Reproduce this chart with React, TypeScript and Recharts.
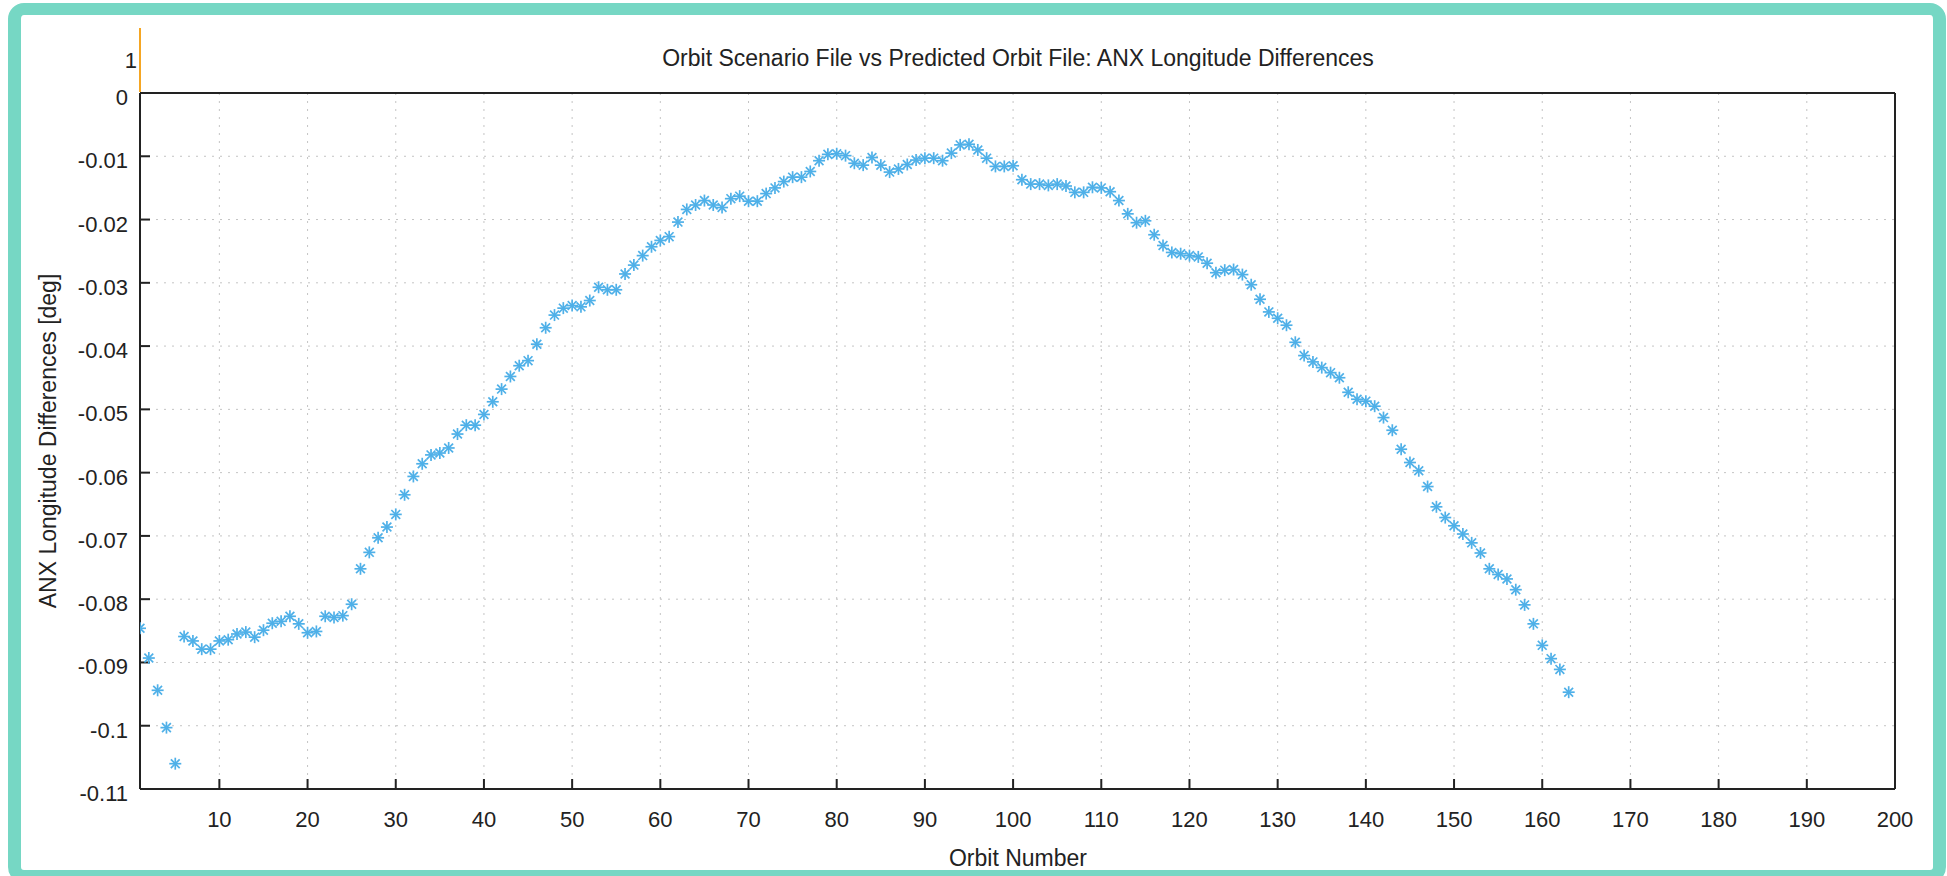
import { ScatterChart, Scatter, XAxis, YAxis, CartesianGrid } from "recharts";

const TITLE = "Orbit Scenario File vs Predicted Orbit File: ANX Longitude Differences";
const X_LABEL = "Orbit Number";
const Y_LABEL = "ANX Longitude Differences [deg]";

// first orbit of the run, values follow one per orbit
const FIRST_ORBIT = 1;

const ANX_DIFF = [
  -0.0846, -0.0893, -0.0944, -0.1003, -0.106, -0.0859, -0.0866, -0.0879, -0.0879, -0.0866,
  -0.0864, -0.0855, -0.0852, -0.086, -0.0849, -0.0838, -0.0835, -0.0827, -0.0839, -0.0853,
  -0.0851, -0.0827, -0.0829, -0.0826, -0.0808, -0.0752, -0.0726, -0.0703, -0.0686, -0.0666,
  -0.0635, -0.0606, -0.0586, -0.0572, -0.0569, -0.0561, -0.0539, -0.0525, -0.0525, -0.0508,
  -0.0488, -0.0468, -0.0448, -0.0431, -0.0423, -0.0397, -0.0371, -0.0351, -0.034, -0.0336,
  -0.0338, -0.0328, -0.0307, -0.0311, -0.0311, -0.0286, -0.0272, -0.0257, -0.0243, -0.0233,
  -0.0227, -0.0204, -0.0184, -0.0177, -0.017, -0.0177, -0.0181, -0.0167, -0.0163, -0.0171,
  -0.0171, -0.0159, -0.015, -0.014, -0.0133, -0.0133, -0.0124, -0.0107, -0.0097, -0.0096,
  -0.0099, -0.0111, -0.0114, -0.0102, -0.0114, -0.0125, -0.012, -0.0113, -0.0106, -0.0103,
  -0.0103, -0.0107, -0.0095, -0.0082, -0.0081, -0.009, -0.0103, -0.0116, -0.0116, -0.0115,
  -0.0137, -0.0144, -0.0144, -0.0146, -0.0144, -0.0147, -0.0157, -0.0157, -0.0149, -0.015,
  -0.0156, -0.017, -0.0191, -0.0205, -0.0202, -0.0224, -0.0241, -0.0252, -0.0254, -0.0257,
  -0.0259, -0.0269, -0.0284, -0.028, -0.0279, -0.0287, -0.0303, -0.0326, -0.0346, -0.0356,
  -0.0367, -0.0394, -0.0415, -0.0425, -0.0434, -0.0442, -0.045, -0.0473, -0.0484, -0.0487,
  -0.0495, -0.0513, -0.0533, -0.0563, -0.0584, -0.0597, -0.0622, -0.0654, -0.0671, -0.0684,
  -0.0697, -0.0711, -0.0727, -0.0752, -0.0761, -0.0768, -0.0785, -0.0809, -0.0839, -0.0873,
  -0.0894, -0.0911, -0.0947,
];

const X_DOMAIN = [1, 200];
const X_TICKS = [10, 20, 30, 40, 50, 60, 70, 80, 90, 100, 110, 120, 130, 140, 150, 160, 170, 180, 190, 200];
const Y_DOMAIN = [-0.11, 0];
const Y_TICKS = [0, -0.01, -0.02, -0.03, -0.04, -0.05, -0.06, -0.07, -0.08, -0.09, -0.1, -0.11];

const FONT = '"Liberation Sans", Arial, Helvetica, sans-serif';
const TEXT = "#222";
const STAR = "#4fb0e8";

const data = ANX_DIFF.map((v, i) => ({ orbit: FIRST_ORBIT + i, diff: v }));

function Star(props: any) {
  const { cx, cy } = props;
  if (cx == null || cy == null) return <g />;
  const r = 6;
  const d = 4.4;
  return (
    <g stroke={STAR} strokeWidth={1.7}>
      <line x1={cx - r} y1={cy} x2={cx + r} y2={cy} />
      <line x1={cx} y1={cy - r} x2={cx} y2={cy + r} />
      <line x1={cx - d} y1={cy - d} x2={cx + d} y2={cy + d} />
      <line x1={cx - d} y1={cy + d} x2={cx + d} y2={cy - d} />
    </g>
  );
}

function XTick(props: any) {
  const { x, y, payload } = props;
  return (
    <text x={x} y={y + 38} textAnchor="middle" fontSize={22} fontFamily={FONT} fill={TEXT}>
      {payload.value}
    </text>
  );
}

function YTick(props: any) {
  const { x, y, payload } = props;
  return (
    <text x={x - 12} y={y + 12} textAnchor="end" fontSize={22} fontFamily={FONT} fill={TEXT}>
      {String(payload.value)}
    </text>
  );
}

export default function App() {
  return (
    <div
      style={{
        position: "fixed",
        left: 0,
        top: 0,
        width: 1947,
        height: 876,
        background: "#fff",
        overflow: "hidden",
      }}
    >
      <div
        style={{
          position: "absolute",
          left: 8,
          top: 3,
          width: 1938,
          height: 880,
          boxSizing: "border-box",
          border: "13px solid #76d7c4",
          borderTopWidth: 12,
          borderRadius: 16,
        }}
      />
      <div style={{ position: "absolute", left: 0, top: 0 }}>
        <ScatterChart width={1947} height={876} margin={{ top: 83, right: 42, bottom: 57, left: 80 }}>
          <CartesianGrid stroke="#c4c4c4" strokeDasharray="2 6" />
          <XAxis
            type="number"
            dataKey="orbit"
            domain={X_DOMAIN}
            ticks={X_TICKS}
            allowDataOverflow
            height={30}
            tickSize={-10}
            tickMargin={10}
            tick={<XTick />}
            stroke="#222"
            strokeWidth={2}
          />
          <XAxis
            xAxisId="top"
            orientation="top"
            type="number"
            dataKey="orbit"
            domain={X_DOMAIN}
            ticks={X_TICKS}
            allowDataOverflow
            height={10}
            tickSize={-10}
            tick={false}
            stroke="#222"
            strokeWidth={2}
          />
          <YAxis
            type="number"
            dataKey="diff"
            domain={Y_DOMAIN}
            ticks={Y_TICKS}
            allowDataOverflow
            width={60}
            tickSize={-10}
            tickMargin={10}
            tick={<YTick />}
            stroke="#222"
            strokeWidth={2}
          />
          <YAxis
            yAxisId="right"
            orientation="right"
            type="number"
            dataKey="diff"
            domain={Y_DOMAIN}
            ticks={Y_TICKS}
            allowDataOverflow
            width={10}
            tickSize={-10}
            tick={false}
            stroke="#222"
            strokeWidth={2}
          />
          <Scatter
            data={data}
            xAxisId="top"
            yAxisId="right"
            shape={() => <g />}
            isAnimationActive={false}
          />
          <Scatter data={data} shape={<Star />} isAnimationActive={false} />
        </ScatterChart>
      </div>
      <svg
        width={1947}
        height={876}
        style={{ position: "absolute", left: 0, top: 0, pointerEvents: "none" }}
        fontFamily={FONT}
        fill={TEXT}
      >
        <text x={1018} y={66} textAnchor="middle" fontSize={23}>
          {TITLE}
        </text>
        <text x={1018} y={866} textAnchor="middle" fontSize={23}>
          {X_LABEL}
        </text>
        <text transform="translate(56,441) rotate(-90)" textAnchor="middle" fontSize={23}>
          {Y_LABEL}
        </text>
        <text x={137} y={68} textAnchor="end" fontSize={22}>
          1
        </text>
        <line x1={140} y1={28} x2={140} y2={92} stroke="#f5a623" strokeWidth={2} />
      </svg>
    </div>
  );
}
